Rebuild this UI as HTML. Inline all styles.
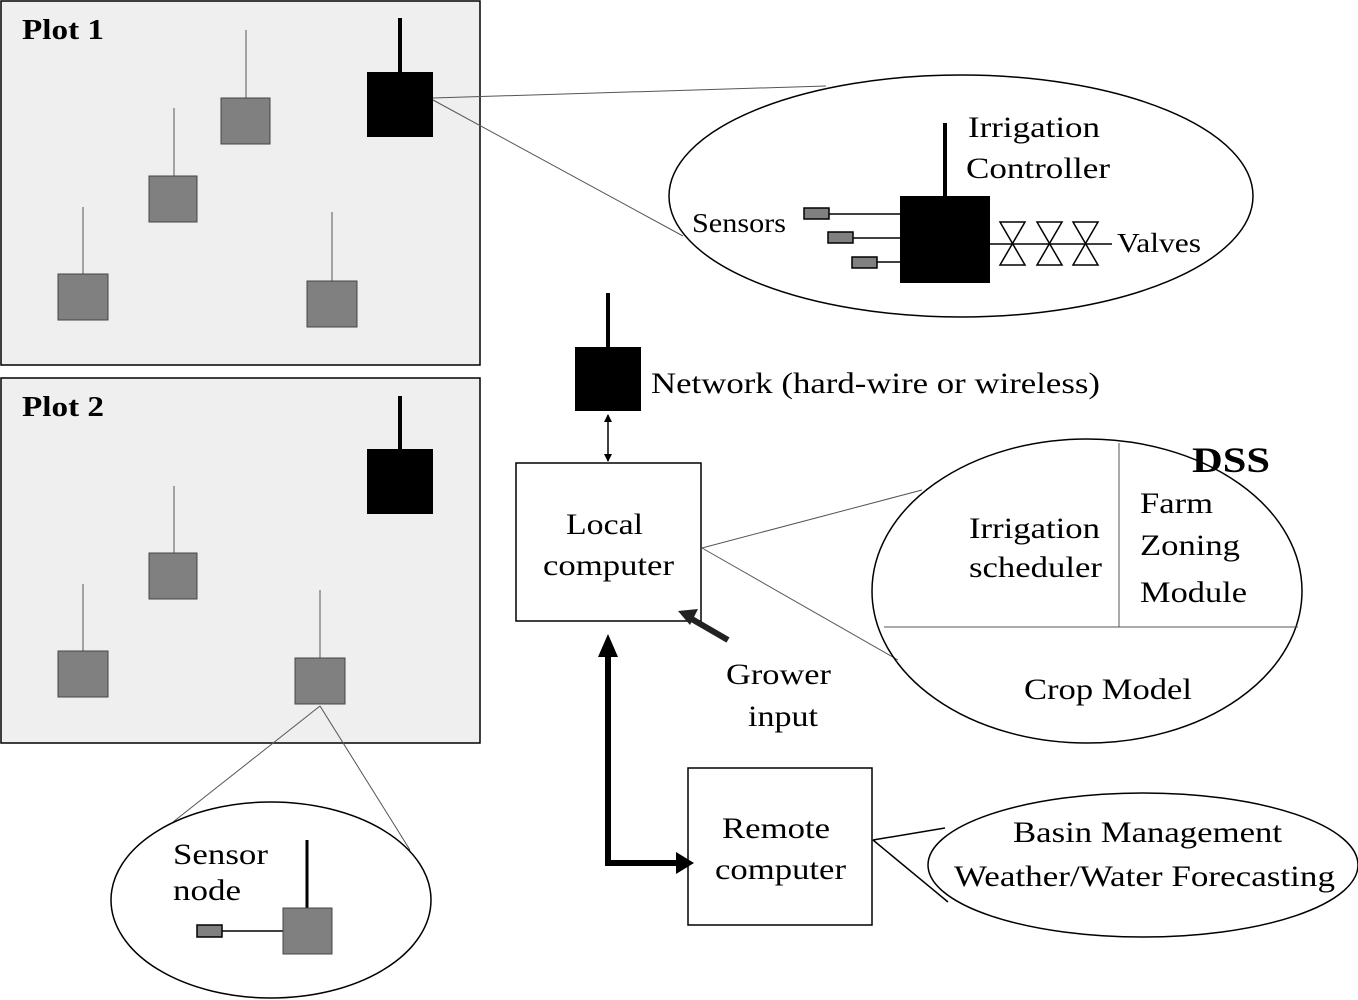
<!DOCTYPE html>
<html><head><style>body{margin:0;background:#fff}svg{display:block}text{font-family:"Liberation Serif",serif;fill:#000}</style></head><body>
<svg width="1358" height="1000" viewBox="0 0 1358 1000">
<defs><marker id="ah" markerWidth="8" markerHeight="8" refX="7" refY="4" orient="auto-start-reverse" markerUnits="userSpaceOnUse"><path d="M0,0L8,4L0,8z"/></marker></defs>
<g stroke="#000" stroke-width="1.5" fill="#efefef">
<rect x="1" y="1" width="479" height="364"/><rect x="1" y="378" width="479" height="365"/></g>
<text x="22" y="39" font-size="28" font-weight="bold" textLength="82" lengthAdjust="spacingAndGlyphs">Plot 1</text>
<text x="22" y="416" font-size="28" font-weight="bold" textLength="82" lengthAdjust="spacingAndGlyphs">Plot 2</text>
<g stroke="#555" stroke-width="1">
<line x1="246" y1="30" x2="246" y2="98"/><line x1="174" y1="108" x2="174" y2="176"/><line x1="83" y1="207" x2="83" y2="274"/><line x1="332" y1="212" x2="332" y2="281"/>
<line x1="174" y1="486" x2="174" y2="553"/><line x1="83" y1="584" x2="83" y2="651"/><line x1="320" y1="590" x2="320" y2="658"/>
</g>
<g fill="#808080" stroke="#444" stroke-width="1">
<rect x="221" y="98" width="49" height="46"/><rect x="149" y="176" width="48" height="46"/><rect x="58" y="274" width="50" height="46"/><rect x="307" y="281" width="50" height="46"/>
<rect x="149" y="553" width="48" height="46"/><rect x="58" y="651" width="50" height="46"/><rect x="295" y="658" width="50" height="46"/>
</g>
<rect x="367" y="72" width="66" height="65"/><line x1="400" y1="18" x2="400" y2="72" stroke="#000" stroke-width="4"/>
<rect x="367" y="449" width="66" height="65"/><line x1="400" y1="396" x2="400" y2="449" stroke="#000" stroke-width="4"/>
<rect x="575" y="347" width="66" height="64"/><line x1="608" y1="293" x2="608" y2="347" stroke="#000" stroke-width="4"/>
<g stroke="#555" stroke-width="1" fill="none">
<line x1="433" y1="98" x2="826" y2="86"/><line x1="433" y1="100" x2="683" y2="236"/>
<line x1="702" y1="548" x2="922" y2="490"/><line x1="702" y1="548" x2="898" y2="660"/>
<line x1="320" y1="706" x2="173" y2="822"/><line x1="320" y1="706" x2="410" y2="850"/>
</g>
<g stroke="#000" stroke-width="1.5" fill="none">
<ellipse cx="961" cy="196" rx="292" ry="121"/>
<ellipse cx="1087" cy="591" rx="215" ry="152"/>
<ellipse cx="1143" cy="865" rx="215" ry="72"/>
<ellipse cx="271" cy="900" rx="160" ry="98"/>
<rect x="516" y="463" width="185" height="158"/>
<rect x="688" y="768" width="184" height="157"/>
<line x1="873" y1="840" x2="945" y2="828"/><line x1="873" y1="840" x2="948" y2="902"/>
</g>
<g stroke="#555" stroke-width="1"><line x1="1119" y1="443" x2="1119" y2="627"/><line x1="884" y1="627" x2="1298" y2="627"/></g>
<rect x="900" y="196" width="90" height="87"/><line x1="945" y1="123" x2="945" y2="196" stroke="#000" stroke-width="4"/>
<g stroke="#000" stroke-width="1.5"><line x1="829" y1="214" x2="900" y2="214"/><line x1="853" y1="238" x2="900" y2="238"/><line x1="877" y1="262" x2="900" y2="262"/>
<line x1="990" y1="244" x2="1112" y2="244"/></g>
<g fill="#808080" stroke="#000" stroke-width="1.5"><rect x="804" y="208" width="25" height="11"/><rect x="828" y="232" width="25" height="11"/><rect x="852" y="257" width="25" height="11"/></g>
<g fill="#fff" stroke="#000" stroke-width="1.5">
<path d="M1000,222L1025,222L1000,265L1025,265z"/><path d="M1037,222L1062,222L1037,265L1062,265z"/><path d="M1073,222L1098,222L1073,265L1098,265z"/></g>
<g font-size="30">
<text x="968" y="137" textLength="132" lengthAdjust="spacingAndGlyphs">Irrigation</text><text x="966" y="178" textLength="144" lengthAdjust="spacingAndGlyphs">Controller</text>
<text x="692" y="232" font-size="27" textLength="94" lengthAdjust="spacingAndGlyphs">Sensors</text><text x="1117" y="252" font-size="27" textLength="84" lengthAdjust="spacingAndGlyphs">Valves</text>
<text x="651" y="393" textLength="449" lengthAdjust="spacingAndGlyphs">Network (hard-wire or wireless)</text>
<text x="566" y="534" textLength="77" lengthAdjust="spacingAndGlyphs">Local</text><text x="543" y="575" textLength="131" lengthAdjust="spacingAndGlyphs">computer</text>
<text x="1192" y="472" font-size="36" font-weight="bold" textLength="78" lengthAdjust="spacingAndGlyphs">DSS</text>
<text x="969" y="538" textLength="131" lengthAdjust="spacingAndGlyphs">Irrigation</text><text x="969" y="577" textLength="133" lengthAdjust="spacingAndGlyphs">scheduler</text>
<text x="1140" y="513" textLength="73" lengthAdjust="spacingAndGlyphs">Farm</text><text x="1140" y="555" textLength="100" lengthAdjust="spacingAndGlyphs">Zoning</text><text x="1140" y="602" textLength="107" lengthAdjust="spacingAndGlyphs">Module</text>
<text x="1024" y="699" textLength="168" lengthAdjust="spacingAndGlyphs">Crop Model</text>
<text x="726" y="684" textLength="105" lengthAdjust="spacingAndGlyphs">Grower</text><text x="748" y="726" textLength="70" lengthAdjust="spacingAndGlyphs">input</text>
<text x="722" y="838" textLength="108" lengthAdjust="spacingAndGlyphs">Remote</text><text x="715" y="879" textLength="131" lengthAdjust="spacingAndGlyphs">computer</text>
<text x="1013" y="842" textLength="269" lengthAdjust="spacingAndGlyphs">Basin Management</text><text x="954" y="886" textLength="381" lengthAdjust="spacingAndGlyphs">Weather/Water Forecasting</text>
<text x="173" y="864" textLength="95" lengthAdjust="spacingAndGlyphs">Sensor</text><text x="173" y="900" textLength="68" lengthAdjust="spacingAndGlyphs">node</text>
</g>
<line x1="608" y1="415" x2="608" y2="461" stroke="#000" stroke-width="1.5" marker-start="url(#ah)" marker-end="url(#ah)"/>
<line x1="728" y1="640" x2="690" y2="618" stroke="#222" stroke-width="6"/><path d="M678,611L698,609L690,625z" fill="#222"/>
<path d="M608,655L608,863L678,863" stroke="#000" stroke-width="6" fill="none"/>
<path d="M598,657L608,634L618,657z"/><path d="M676,852L694,863L676,874z"/>
<line x1="307" y1="840" x2="307" y2="908" stroke="#000" stroke-width="3"/>
<line x1="222" y1="931" x2="283" y2="931" stroke="#000" stroke-width="1.5"/>
<rect x="283" y="908" width="49" height="46" fill="#808080" stroke="#444"/>
<rect x="197" y="925" width="25" height="12" fill="#808080" stroke="#000" stroke-width="1.5"/>
</svg></body></html>
